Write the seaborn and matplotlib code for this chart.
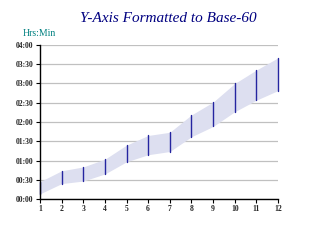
import matplotlib
matplotlib.use("Agg")
import matplotlib.pyplot as plt
from matplotlib.ticker import FuncFormatter, MultipleLocator
import seaborn as sns
import pandas as pd

# data (minutes)
months = [1, 2, 3, 4, 5, 6, 7, 8, 9, 10, 11, 12]
low_min = [8, 24, 28, 39, 58, 69, 74, 97, 113, 136, 154, 169]
high_min = [27, 44, 50, 62, 84, 99, 104, 131, 151, 180, 201, 220]

df = pd.DataFrame({
    "x": months + months,
    "y": low_min + high_min,
})

sns.set_theme(style="white")
plt.rcParams["font.family"] = ["Liberation Serif", "DejaVu Serif"]

fig = plt.figure(figsize=(3.36, 2.52), dpi=100)
ax = fig.add_axes([40/336, 1-199/252, (278-40)/336, (199-45)/252])

# band
sns.lineplot(data=df, x="x", y="y", estimator="mean", errorbar=("pi", 100),
             err_style="band", linewidth=0, ax=ax, color="#DDDFF0",
             err_kws={"alpha": 1, "linewidth": 0})
# high-low bars
sns.lineplot(data=df, x="x", y="y", estimator="mean", errorbar=("pi", 100),
             err_style="bars", linewidth=0, ax=ax, color="#2525A0",
             err_kws={"linewidth": 1.0, "capsize": 0})
for c in ax.collections:
    c.set_clip_on(False)

ax.set_xlim(1, 12)
ax.set_ylim(0, 240)
ax.yaxis.set_major_locator(MultipleLocator(30))
ax.set_xticks(months)
ax.yaxis.set_major_formatter(FuncFormatter(lambda v, p: f"{int(v)//60:02d}:{int(v)%60:02d}"))
ax.grid(axis="y", color="#C0C0C0", linewidth=0.9)
ax.set_axisbelow(True)
for s in ["top", "right"]:
    ax.spines[s].set_visible(False)
for s in ["left", "bottom"]:
    ax.spines[s].set_color("black")
    ax.spines[s].set_linewidth(1.0)
ax.tick_params(axis="both", which="both", direction="out", length=3, width=0.8,
               color="black", labelsize=5.5, pad=1.5, left=True, bottom=True)
for lab in ax.get_xticklabels() + ax.get_yticklabels():
    lab.set_fontweight("bold")
ax.set_xlabel("")
ax.set_ylabel("")

fig.text(0.5, 1-18/252, "Y-Axis Formatted to Base-60", ha="center", va="center",
         fontsize=11, style="italic", color="#000080")
fig.text(23/336, 1-33/252, "Hrs:Min", ha="left", va="center",
         fontsize=7, color="#008080")

fig.savefig("out.png", dpi=100)
